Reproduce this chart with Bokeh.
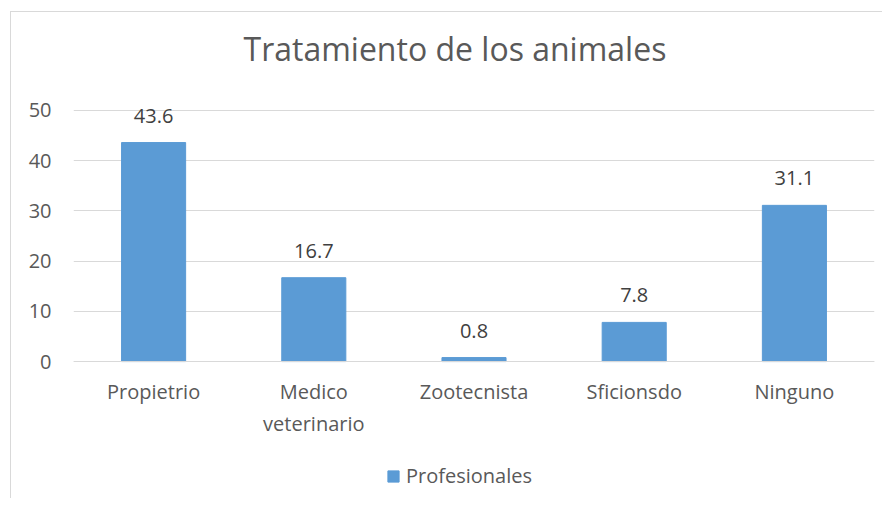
from bokeh.plotting import figure
from bokeh.models import Range1d, FixedTicker, ColumnDataSource, Legend, LegendItem
from bokeh.core.properties import value
from bokeh.embed import file_html
from bokeh.resources import INLINE

title_text = "Tratamiento de los animales"
series_name = "Profesionales"
categories = ["Propietrio", "Medico\nveterinario", "Zootecnista", "Sficionsdo", "Ninguno"]
values = [43.6, 16.7, 0.8, 7.8, 31.1]
y_ticks = [0, 10, 20, 30, 40, 50]

FONT = "Open Sans"
TXT = "#595959"
BAR = "#5B9BD5"
GRID = "#D9D9D9"

source = ColumnDataSource(dict(cat=categories, val=values,
                               lbl=[f"{v:.1f}" for v in values]))

# frame runs down to the bottom of the figure; the x axis is pinned at y = 0
p = figure(x_range=categories, y_range=Range1d(-27.45, 55.95), width=872, height=487,
           output_backend="svg", toolbar_location=None,
           min_border_left=62, min_border_right=9, min_border_top=68, min_border_bottom=0,
           margin=(11, 0, 0, 10))
p.styles = {"border-left": f"1px solid {GRID}", "border-top": f"1px solid {GRID}"}
p.outline_line_color = None
p.background_fill_color = "white"

r = p.vbar(x="cat", top="val", width=0.4, source=source, fill_color=BAR, line_color=BAR)
p.text(x="cat", y="val", text="lbl", source=source, text_align="center",
       text_baseline="alphabetic", y_offset=-27, text_font=value(FONT),
       text_font_size="20px", text_color="#404040")

p.xgrid.grid_line_color = None
p.ygrid.grid_line_color = GRID
p.yaxis.ticker = FixedTicker(ticks=y_ticks)
p.yaxis.axis_line_color = None
p.yaxis.major_tick_line_color = None
p.yaxis.minor_tick_line_color = None
p.yaxis.major_label_standoff = 22
p.xaxis.fixed_location = 0
p.xaxis.axis_line_color = GRID
p.xaxis.major_tick_line_color = None
p.xaxis.major_tick_out = 0
p.yaxis.major_tick_out = 0
p.xaxis.major_label_standoff = 16
for ax in (p.xaxis, p.yaxis):
    ax.major_label_text_font = FONT
    ax.major_label_text_font_size = "20px"
    ax.major_label_text_color = TXT

p.title.text = title_text
p.title.align = "left"
p.title.offset = 170
p.title.standoff = 21
p.title.text_font = FONT
p.title.text_font_size = "32px"
p.title.text_font_style = "normal"
p.title.text_color = TXT

legend = Legend(items=[LegendItem(label=series_name, renderers=[r])],
                location=(313, 10), orientation="horizontal",
                border_line_color=None, background_fill_alpha=0,
                label_text_font=FONT, label_text_font_size="20px",
                label_text_color=TXT, glyph_width=14, glyph_height=14,
                label_standoff=6, padding=0, spacing=0, margin=0)
p.add_layout(legend, "center")

open("out.html", "w").write(file_html(p, INLINE))
